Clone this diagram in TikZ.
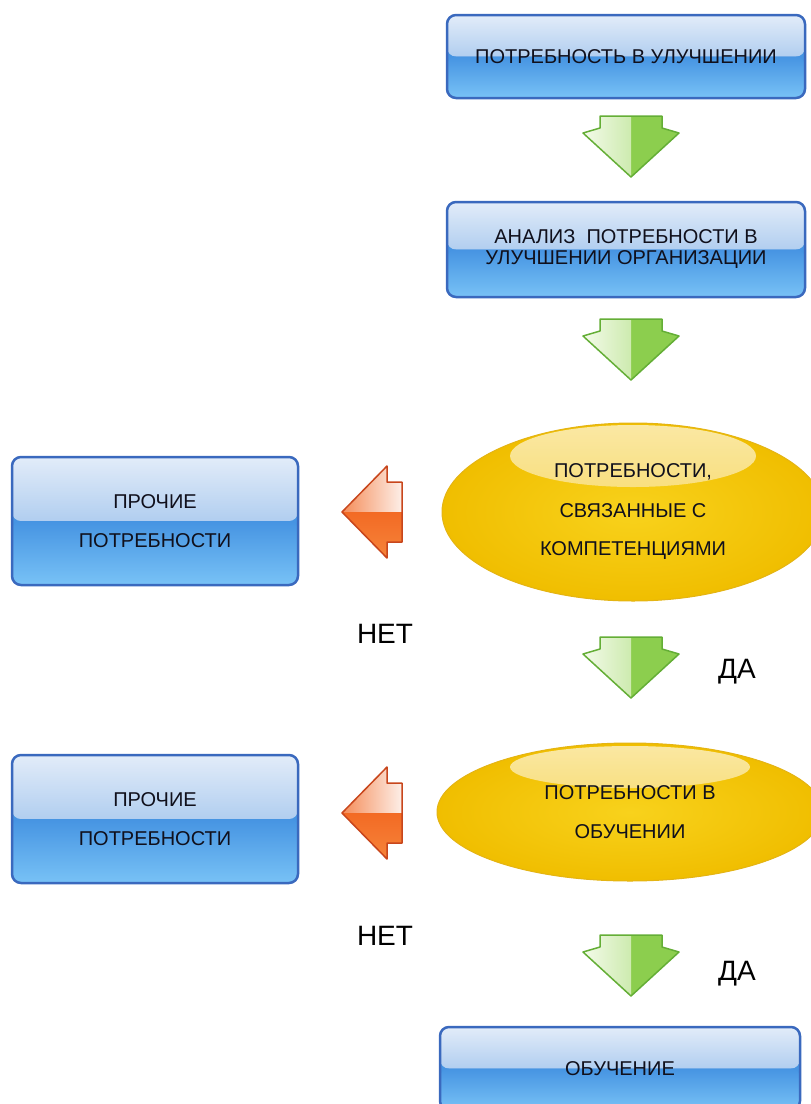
\documentclass[tikz,border=0pt]{standalone}
\usepackage{fontspec}
\setmainfont{Liberation Sans}
\usetikzlibrary{shapes.geometric}

\definecolor{boxline}{HTML}{3A69BE}
\definecolor{glosstop}{HTML}{E2ECF9}
\definecolor{glossmid}{HTML}{80B0E6}
\definecolor{boxlow}{HTML}{4694E2}
\definecolor{boxbottom}{HTML}{78C2F6}
\definecolor{labeltext}{HTML}{10101C}
\definecolor{ovalline}{HTML}{E4B414}
\definecolor{ovalin}{HTML}{F8D21C}
\definecolor{ovalout}{HTML}{F0BE00}
\definecolor{glowtop}{HTML}{FAE8A4}
\definecolor{glowbottom}{HTML}{F6D040}
\definecolor{greenline}{HTML}{64AE36}
\definecolor{greenpale}{HTML}{F4FBEA}
\definecolor{greenmid}{HTML}{A6DA74}
\definecolor{greenfull}{HTML}{8CCE4E}
\definecolor{redline}{HTML}{C8461C}
\definecolor{redpale}{HTML}{FDEFE8}
\definecolor{redmid}{HTML}{F58C58}
\definecolor{redstrong}{HTML}{EF500E}
\definecolor{redbottom}{HTML}{F6843A}

\tikzset{
  block/.style={draw=boxline, line width=2.5pt, rounded corners=9pt, fill=boxlow,
    text=labeltext, align=center, inner sep=0pt,
    font=\fontsize{20}{21}\selectfont,
    path picture={
      \shade[top color=glosstop, bottom color=glossmid]
        (path picture bounding box.north west) rectangle (path picture bounding box.east);
      \shade[top color=boxlow, bottom color=boxbottom]
        (path picture bounding box.west) rectangle (path picture bounding box.south east);
    }},
  tallblock/.style={block, minimum width=286pt, minimum height=128pt,
    font=\fontsize{20}{39}\selectfont},
  choice/.style n args={3}{ellipse, draw=ovalline, line width=1pt,
    inner color=ovalin, outer color=ovalout,
    text=labeltext, align=center, inner sep=0pt,
    font=\fontsize{20}{39}\selectfont,
    path picture={
      \shade[top color=glowtop, bottom color=glowbottom]
        ([yshift=-#1]path picture bounding box.north) ellipse [x radius=#2, y radius=#3];
    }},
  answer/.style={text=black, font=\fontsize{28}{30}\selectfont},
  godown/.pic={
    \fill[greenfull] (-31,0) -- (31,0) -- (31,12) -- (48,17) -- (0,61) -- (-48,17) -- (-31,12) -- cycle;
    \begin{scope}
      \clip (-50,-1) rectangle (0,62);
      \shade[left color=greenpale, right color=greenmid]
        (-31,0) -- (31,0) -- (31,12) -- (48,17) -- (0,61) -- (-48,17) -- (-31,12) -- cycle;
    \end{scope}
    \draw[greenline, line width=1.5pt, line join=round]
      (-31,0) -- (31,0) -- (31,12) -- (48,17) -- (0,61) -- (-48,17) -- (-31,12) -- cycle;
  },
  goleft/.pic={
    \begin{scope}
      \clip (-1,-47) rectangle (61,0);
      \shade[left color=redmid, right color=redpale]
        (0,0) -- (45,-46) -- (45,-30) -- (60,-30) -- (60,30) -- (45,30) -- (45,46) -- cycle;
    \end{scope}
    \begin{scope}
      \clip (-1,0) rectangle (61,47);
      \shade[top color=redstrong, bottom color=redbottom]
        (0,0) -- (45,-46) -- (45,-30) -- (60,-30) -- (60,30) -- (45,30) -- (45,46) -- cycle;
    \end{scope}
    \draw[redline, line width=1.5pt, line join=round]
      (0,0) -- (45,-46) -- (45,-30) -- (60,-30) -- (60,30) -- (45,30) -- (45,46) -- cycle;
  }
}

\begin{document}
\begin{tikzpicture}[x=1pt, y=-1pt]
  \useasboundingbox (0,0) rectangle (811,1104);
  \clip (0,0) rectangle (811,1104);

  \node[block, minimum width=358pt, minimum height=83pt] (need) at (626,56.5) {ПОТРЕБНОСТЬ В УЛУЧШЕНИИ};
  \node[block, minimum width=358pt, minimum height=95pt] (analysis) at (626,249.5) {АНАЛИЗ\ \ ПОТРЕБНОСТИ В\\УЛУЧШЕНИИ ОРГАНИЗАЦИИ};
  \node[choice={33pt}{123pt}{31pt}, minimum width=382pt, minimum height=178pt] (competence) at (633,512) {ПОТРЕБНОСТИ,\\СВЯЗАННЫЕ С\\КОМПЕТЕНЦИЯМИ};
  \node[tallblock] (other1) at (155,521) {ПРОЧИЕ\\ПОТРЕБНОСТИ};
  \node[choice={24pt}{120pt}{21pt}, minimum width=386pt, minimum height=138pt] (training) at (630,812) {ПОТРЕБНОСТИ В\\ОБУЧЕНИИ};
  \node[tallblock] (other2) at (155,819) {ПРОЧИЕ\\ПОТРЕБНОСТИ};
  \node[block, minimum width=360pt, minimum height=83pt] (course) at (620,1068.5) {ОБУЧЕНИЕ};

  \node[answer] (no1) at (385,634) {НЕТ};
  \node[answer] (yes1) at (737,672) {ДА};
  \node[answer] (no2) at (385,936) {НЕТ};
  \node[answer] (yes2) at (737,974) {ДА};

  \pic (step1) at (631,116) {godown};
  \pic (step2) at (631,319) {godown};
  \pic (step3) at (631,637) {godown};
  \pic (step4) at (631,935) {godown};
  \pic (skip1) at (342,512) {goleft};
  \pic (skip2) at (342,813) {goleft};
\end{tikzpicture}
\end{document}
